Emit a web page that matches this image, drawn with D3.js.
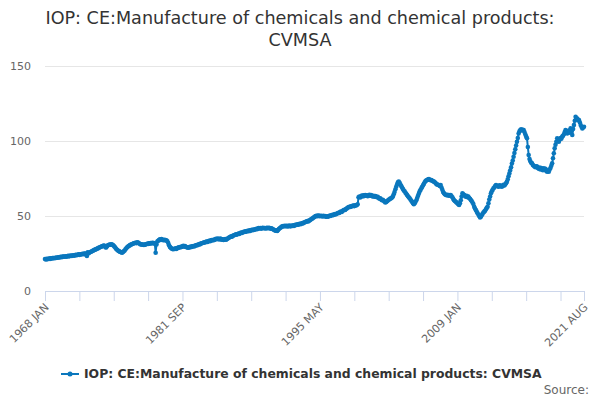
<!DOCTYPE html>
<html>
<head>
<meta charset="utf-8">
<script src="https://cdn.jsdelivr.net/npm/d3@7/dist/d3.min.js"></script>
<style>
  html, body { margin: 0; padding: 0; background: #fff; }
  svg { display: block; font-family: "DejaVu Sans", Verdana, sans-serif; }
</style>
</head>
<body>
<svg id="chart" width="600" height="400"></svg>
<script>
// ---- data ----
const titleLines = ["IOP: CE:Manufacture of chemicals and chemical products:", "CVMSA"];
const seriesName = "IOP: CE:Manufacture of chemicals and chemical products: CVMSA";
const startYear = 1968;
const monthNames = ["JAN","FEB","MAR","APR","MAY","JUN","JUL","AUG","SEP","OCT","NOV","DEC"];
const yTicks = [0, 50, 100, 150];
const tickStep = 41;              // category interval between tick marks
const labelStep = 164;            // category interval between labels
// monthly values, one row per year (1968 JAN .. 2021 AUG)
const values = [
  21.3,21.0,21.4,21.2,21.5,21.6,21.4,21.8,21.7,21.9,22.0,21.8, // 1968
  22.1,22.0,22.3,22.2,22.5,22.4,22.6,22.8,22.5,22.9,23.0,22.8, // 1969
  23.0,23.2,22.9,23.3,23.4,23.1,23.5,23.6,23.3,23.7,23.8,23.6, // 1970
  23.9,24.1,23.8,24.2,24.4,24.1,24.5,24.3,24.6,24.8,24.5,24.9, // 1971
  25.0,24.2,23.3,25.8,25.2,25.6,26.0,26.2,26.5,26.8,27.1,27.4, // 1972
  27.6,27.9,28.2,28.4,28.8,29.0,29.3,29.5,29.8,30.0,30.3,30.1, // 1973
  29.2,29.0,29.8,30.5,30.7,31.0,30.8,31.2,31.0,30.6,30.2,29.5, // 1974
  28.8,28.0,27.5,27.0,26.6,26.3,26.0,25.8,25.5,26.0,26.5,27.0, // 1975
  27.8,28.5,29.2,29.6,30.0,30.4,30.8,31.0,31.3,31.5,31.8,32.0, // 1976
  32.2,31.9,32.5,32.3,31.8,31.5,31.0,31.2,30.8,31.0,30.7,30.9, // 1977
  31.0,31.3,31.5,31.4,31.8,31.6,32.0,31.7,32.2,31.9,32.0,31.5, // 1978
  25.5,31.0,33.0,33.5,34.0,34.4,34.0,34.6,34.2,33.8,34.1,33.9, // 1979
  34.0,33.6,33.2,32.0,30.5,29.4,28.8,28.3,28.0,27.8,28.2,28.0, // 1980
  28.4,28.1,28.6,28.9,29.2,29.0,29.5,29.3,29.8,30.1,29.6,29.9, // 1981
  29.5,29.2,29.0,28.8,29.3,29.1,29.6,29.4,29.8,30.0,29.7,30.2, // 1982
  30.4,30.7,30.5,31.0,31.3,31.1,31.6,31.8,32.0,32.2,32.5,32.3, // 1983
  32.8,33.0,32.7,33.3,33.5,33.2,33.8,34.0,33.7,34.2,34.0,34.5, // 1984
  34.8,34.5,35.0,34.7,34.4,34.9,34.6,34.2,34.5,34.0,34.3,34.6, // 1985
  34.2,34.6,35.0,35.3,35.8,36.0,36.4,36.2,36.8,37.0,37.3,37.5, // 1986
  37.8,37.6,38.0,38.3,38.1,38.6,38.9,38.7,39.2,39.5,39.3,39.8, // 1987
  39.6,39.9,40.2,39.8,40.4,40.1,40.6,40.8,40.5,41.0,40.8,41.2, // 1988
  41.5,41.2,41.6,41.9,41.7,42.0,41.6,41.9,42.2,41.8,42.0,41.7, // 1989
  41.9,42.1,41.8,42.2,41.9,41.6,41.8,41.5,41.2,40.8,40.5,40.2, // 1990
  40.4,40.0,40.6,41.3,41.8,42.2,42.8,43.0,43.3,43.1,43.5,43.2, // 1991
  43.5,43.0,43.4,43.2,43.6,43.1,43.5,43.3,43.8,43.4,43.9,44.2, // 1992
  44.0,44.4,44.2,44.6,44.8,44.5,45.0,45.3,45.1,45.6,45.8,46.1, // 1993
  46.3,46.6,46.4,46.9,47.2,47.6,48.0,48.3,48.8,49.2,49.6,49.9, // 1994
  50.2,49.9,50.3,50.1,49.8,50.2,50.0,49.7,50.1,49.8,50.0,49.6, // 1995
  49.5,49.8,49.6,50.0,50.3,50.1,50.5,50.8,50.6,51.0,51.3,51.1, // 1996
  51.5,51.8,52.2,52.0,52.6,53.0,52.7,53.3,53.8,54.2,54.0,54.6, // 1997
  55.0,55.5,55.8,56.2,56.0,56.5,56.3,56.8,57.0,56.6,57.2,57.0, // 1998
  57.3,57.8,62.5,62.9,62.3,63.2,63.6,63.0,63.8,63.4,64.0,63.6, // 1999
  63.8,63.2,63.6,64.1,63.5,63.9,63.4,63.0,63.5,62.8,63.3,62.9, // 2000
  62.5,62.8,62.0,61.5,61.8,61.0,60.5,60.8,60.2,59.6,59.0,59.4, // 2001
  59.8,60.3,60.8,61.2,61.6,61.8,62.3,63.0,64.5,66.0,67.8,69.5, // 2002
  71.0,72.5,73.0,72.2,71.0,70.0,69.0,68.0,67.0,66.5,65.5,64.8, // 2003
  64.0,63.2,62.5,61.8,61.0,60.2,59.5,58.5,57.8,58.5,59.5,60.5, // 2004
  62.0,63.5,65.0,66.5,67.5,68.5,69.5,70.5,71.5,72.5,73.3,73.8, // 2005
  74.0,74.4,74.6,74.2,73.8,74.0,73.5,73.2,72.9,72.5,72.0,71.2, // 2006
  71.0,70.8,70.5,70.0,70.7,69.0,67.5,66.0,65.1,64.5,64.2,63.8, // 2007
  64.2,63.6,64.0,63.5,64.0,63.2,62.5,61.5,60.5,60.0,59.5,59.0, // 2008
  58.5,57.8,57.3,58.5,60.5,63.0,65.1,64.5,64.0,63.5,62.9,63.4, // 2009
  62.5,63.0,62.0,61.5,60.7,60.0,59.0,58.0,56.2,55.0,54.0,53.0, // 2010
  51.8,51.0,50.0,49.0,49.5,50.5,51.5,52.3,52.9,53.5,54.5,55.5, // 2011
  56.2,58.5,61.0,63.0,65.1,66.5,67.5,68.5,69.0,70.0,70.7,70.2, // 2012
  69.8,69.5,70.5,69.8,70.3,69.5,70.0,70.8,70.3,71.0,71.8,72.8, // 2013
  74.5,76.5,78.4,80.5,82.5,85.0,87.0,89.5,92.0,94.5,97.0,99.5, // 2014
  102.0,105.0,106.5,107.3,107.8,107.0,107.5,107.3,106.0,104.5,103.0,101.8, // 2015
  96.0,90.7,88.0,86.5,85.5,85.1,84.0,83.5,83.0,82.5,83.2,82.9, // 2016
  82.0,81.5,82.3,81.0,82.0,81.2,80.5,81.8,80.8,81.5,80.0,79.5, // 2017
  80.5,79.5,81.0,82.0,83.5,85.1,88.5,91.8,95.1,97.5,99.5,101.8, // 2018
  100.5,99.5,101.0,102.0,101.5,102.9,103.5,104.5,106.0,107.3,106.0,105.0, // 2019
  106.0,107.0,105.5,108.4,106.5,104.0,108.0,110.7,113.5,116.2,114.5,115.0, // 2020
  114.0,114.0,112.5,110.7,109.5,108.4,109.0,109.5 // 2021
];
const categories = values.map((v, i) =>
  (startYear + Math.floor(i / 12)) + " " + monthNames[i % 12]);

// ---- chart ----
const svg = d3.select("#chart");
const lineColor = "#0a77bd";
const plot = { left: 45, right: 584, top: 66, bottom: 291 };

const x = d3.scaleLinear().domain([0, values.length - 1]).range([plot.left, plot.right]);
const y = d3.scaleLinear().domain([0, 150]).range([plot.bottom, plot.top]);

// title
const title = svg.append("text")
  .attr("x", 300).attr("text-anchor", "middle")
  .attr("fill", "#333333").style("font-size", "17.6px");
titleLines.forEach((t, i) =>
  title.append("tspan").attr("x", 300).attr("y", 24 + i * 22).text(t));

// gridlines + y labels
const yAxis = d3.axisLeft(y).tickValues(yTicks).tickSize(-(plot.right - plot.left)).tickPadding(14);
const gy = svg.append("g").attr("transform", `translate(${plot.left},0)`).call(yAxis);
gy.select(".domain").remove();
gy.selectAll(".tick line").attr("stroke", "#e6e6e6");
gy.selectAll(".tick").filter(d => d === 0).select("line").remove();
gy.selectAll(".tick text").attr("fill", "#666666")
  .style("font-size", "11px").style("font-family", "DejaVu Sans, Verdana, sans-serif");

// x axis
const last = values.length - 1;
const tickIdx = d3.range(0, last, tickStep).concat([last]);
const xAxis = d3.axisBottom(x).tickValues(tickIdx).tickSize(10).tickSizeOuter(0)
  .tickFormat(i => (i % labelStep === 0 || i === last) ? categories[i] : "");
const gx = svg.append("g").attr("transform", `translate(0,${plot.bottom})`).call(xAxis);
gx.select(".domain").attr("stroke", "#ccd6eb");
gx.selectAll(".tick line").attr("stroke", "#ccd6eb");
gx.selectAll(".tick text")
  .attr("fill", "#666666").style("font-size", "11px")
  .style("font-family", "DejaVu Sans, Verdana, sans-serif")
  .attr("text-anchor", "end").attr("x", null).attr("y", null).attr("dy", null)
  .attr("transform", "translate(4,17) rotate(-45)");

// series line
const line = d3.line().x((d, i) => x(i)).y(d => y(d));
svg.append("path").datum(values)
  .attr("d", line).attr("fill", "none")
  .attr("stroke", lineColor).attr("stroke-width", 2)
  .attr("stroke-linejoin", "round");
svg.append("g").selectAll("circle").data(values).join("circle")
  .attr("cx", (d, i) => x(i)).attr("cy", d => y(d)).attr("r", 2.3)
  .attr("fill", lineColor);

// legend
const leg = svg.append("g");
leg.append("line").attr("x1", 61).attr("x2", 79).attr("y1", 374).attr("y2", 374)
  .attr("stroke", lineColor).attr("stroke-width", 2);
leg.append("circle").attr("cx", 70).attr("cy", 374).attr("r", 2.5).attr("fill", lineColor);
leg.append("text").attr("x", 84).attr("y", 378)
  .attr("fill", "#333333").style("font-size", "12.4px").style("font-weight", "bold")
  .text(seriesName);

// credits
svg.append("text").attr("x", 589).attr("y", 394).attr("text-anchor", "end")
  .attr("fill", "#666666").style("font-size", "12px").text("Source:");
</script>
</body>
</html>
